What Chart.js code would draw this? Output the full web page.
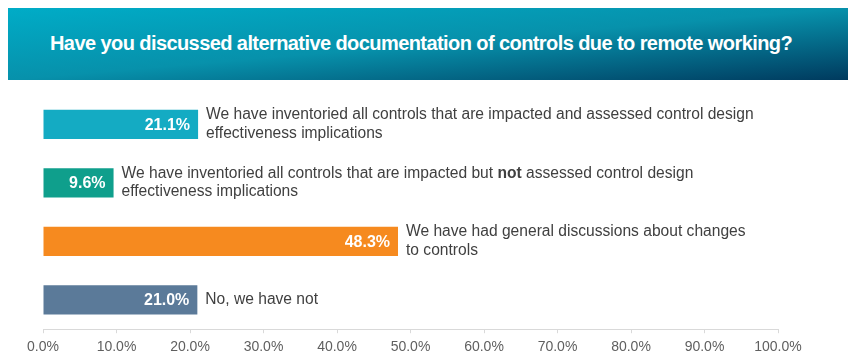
<!DOCTYPE html>
<html>
<head>
  <title>Alternative documentation of controls</title>
  <style>
    body {
      margin: 0;
      width: 857px;
      height: 362px;
      position: relative;
      background: #fff;
      overflow: hidden;
      font-family: "Liberation Sans", Arial, sans-serif;
    }
    #header {
      position: absolute;
      left: 8px;
      top: 8px;
      width: 840px;
      height: 72px;
      background: linear-gradient(to bottom right, #00acc7 0%, #0791ab 50%, #003a5e 100%);
    }
    #header h1 {
      position: absolute;
      left: 42px;
      top: 24px;
      margin: 0;
      font-size: 20px;
      font-weight: bold;
      color: #fff;
      letter-spacing: -0.58px;
      white-space: nowrap;
    }
    #wrap {
      position: absolute;
      left: 0;
      top: 0;
      width: 857px;
      height: 362px;
    }
  </style>
</head>
<body>
  <div id="header"><h1>Have you discussed alternative documentation of controls due to remote working?</h1></div>
  <div id="wrap"><canvas id="chart"></canvas></div>

  <script src="https://cdn.jsdelivr.net/npm/chart.js"></script>
  <script>
    // answers, one array of lines per bar; **word** is drawn bold
    const categories = [
      ['We have inventoried all controls that are impacted and assessed control design', 'effectiveness implications'],
      ['We have inventoried all controls that are impacted but **not** assessed control design', 'effectiveness implications'],
      ['We have had general discussions about changes', 'to controls'],
      ['No, we have not']
    ];
    const values = [21.1, 9.6, 48.3, 21.0];
    const barColors = ['#14abc3', '#0f9f8c', '#f68a1f', '#5b7a99'];
    const tickValues = [0, 10, 20, 30, 40, 50, 60, 70, 80, 90, 100];

    const FONT = '"Liberation Sans", Arial, sans-serif';

    // draws value inside each bar and the answer text to the right of it
    const barLabels = {
      id: 'barLabels',
      afterDatasetsDraw(chart) {
        const ctx = chart.ctx;
        const meta = chart.getDatasetMeta(0);
        ctx.save();
        ctx.textBaseline = 'middle';
        meta.data.forEach((bar, i) => {
          ctx.font = 'bold 16px ' + FONT;
          ctx.fillStyle = '#ffffff';
          ctx.textAlign = 'right';
          ctx.fillText(values[i].toFixed(1) + '%', bar.x - 8, bar.y + 1);

          const lines = categories[i];
          const lh = 18.6;
          let y = bar.y - (lines.length - 1) * lh / 2;
          ctx.textAlign = 'left';
          ctx.fillStyle = '#404040';
          lines.forEach(line => {
            let x = bar.x + 8;
            line.split('**').forEach((part, k) => {
              ctx.font = (k % 2 ? 'bold ' : '') + '15.6px ' + FONT;
              ctx.fillText(part, x, y);
              x += ctx.measureText(part).width;
            });
            y += lh;
          });
        });
        ctx.restore();
      }
    };

    new Chart(document.getElementById('chart'), {
      type: 'bar',
      data: {
        labels: categories.map(c => c.join(' ').replace(/\*\*/g, '')),
        datasets: [{
          data: values,
          backgroundColor: barColors,
          borderWidth: 0,
          barPercentage: 0.5,
          categoryPercentage: 1
        }]
      },
      options: {
        indexAxis: 'y',
        responsive: true,
        maintainAspectRatio: false,
        animation: false,
        layout: { padding: { left: 43, right: 79, top: 95, bottom: 0 } },
        plugins: {
          legend: { display: false },
          tooltip: { enabled: false }
        },
        scales: {
          x: {
            min: 0,
            max: 100,
            afterBuildTicks: axis => { axis.ticks = tickValues.map(v => ({ value: v })); },
            grid: { drawOnChartArea: false, drawTicks: true, tickLength: 4, color: '#d9d9d9' },
            border: { color: '#d9d9d9' },
            ticks: {
              color: '#5f5f5f',
              font: { family: FONT, size: 14 },
              padding: 6,
              maxRotation: 0,
              callback: v => v.toFixed(1) + '%'
            }
          },
          y: { display: false }
        }
      },
      plugins: [barLabels]
    });
  </script>
</body>
</html>
